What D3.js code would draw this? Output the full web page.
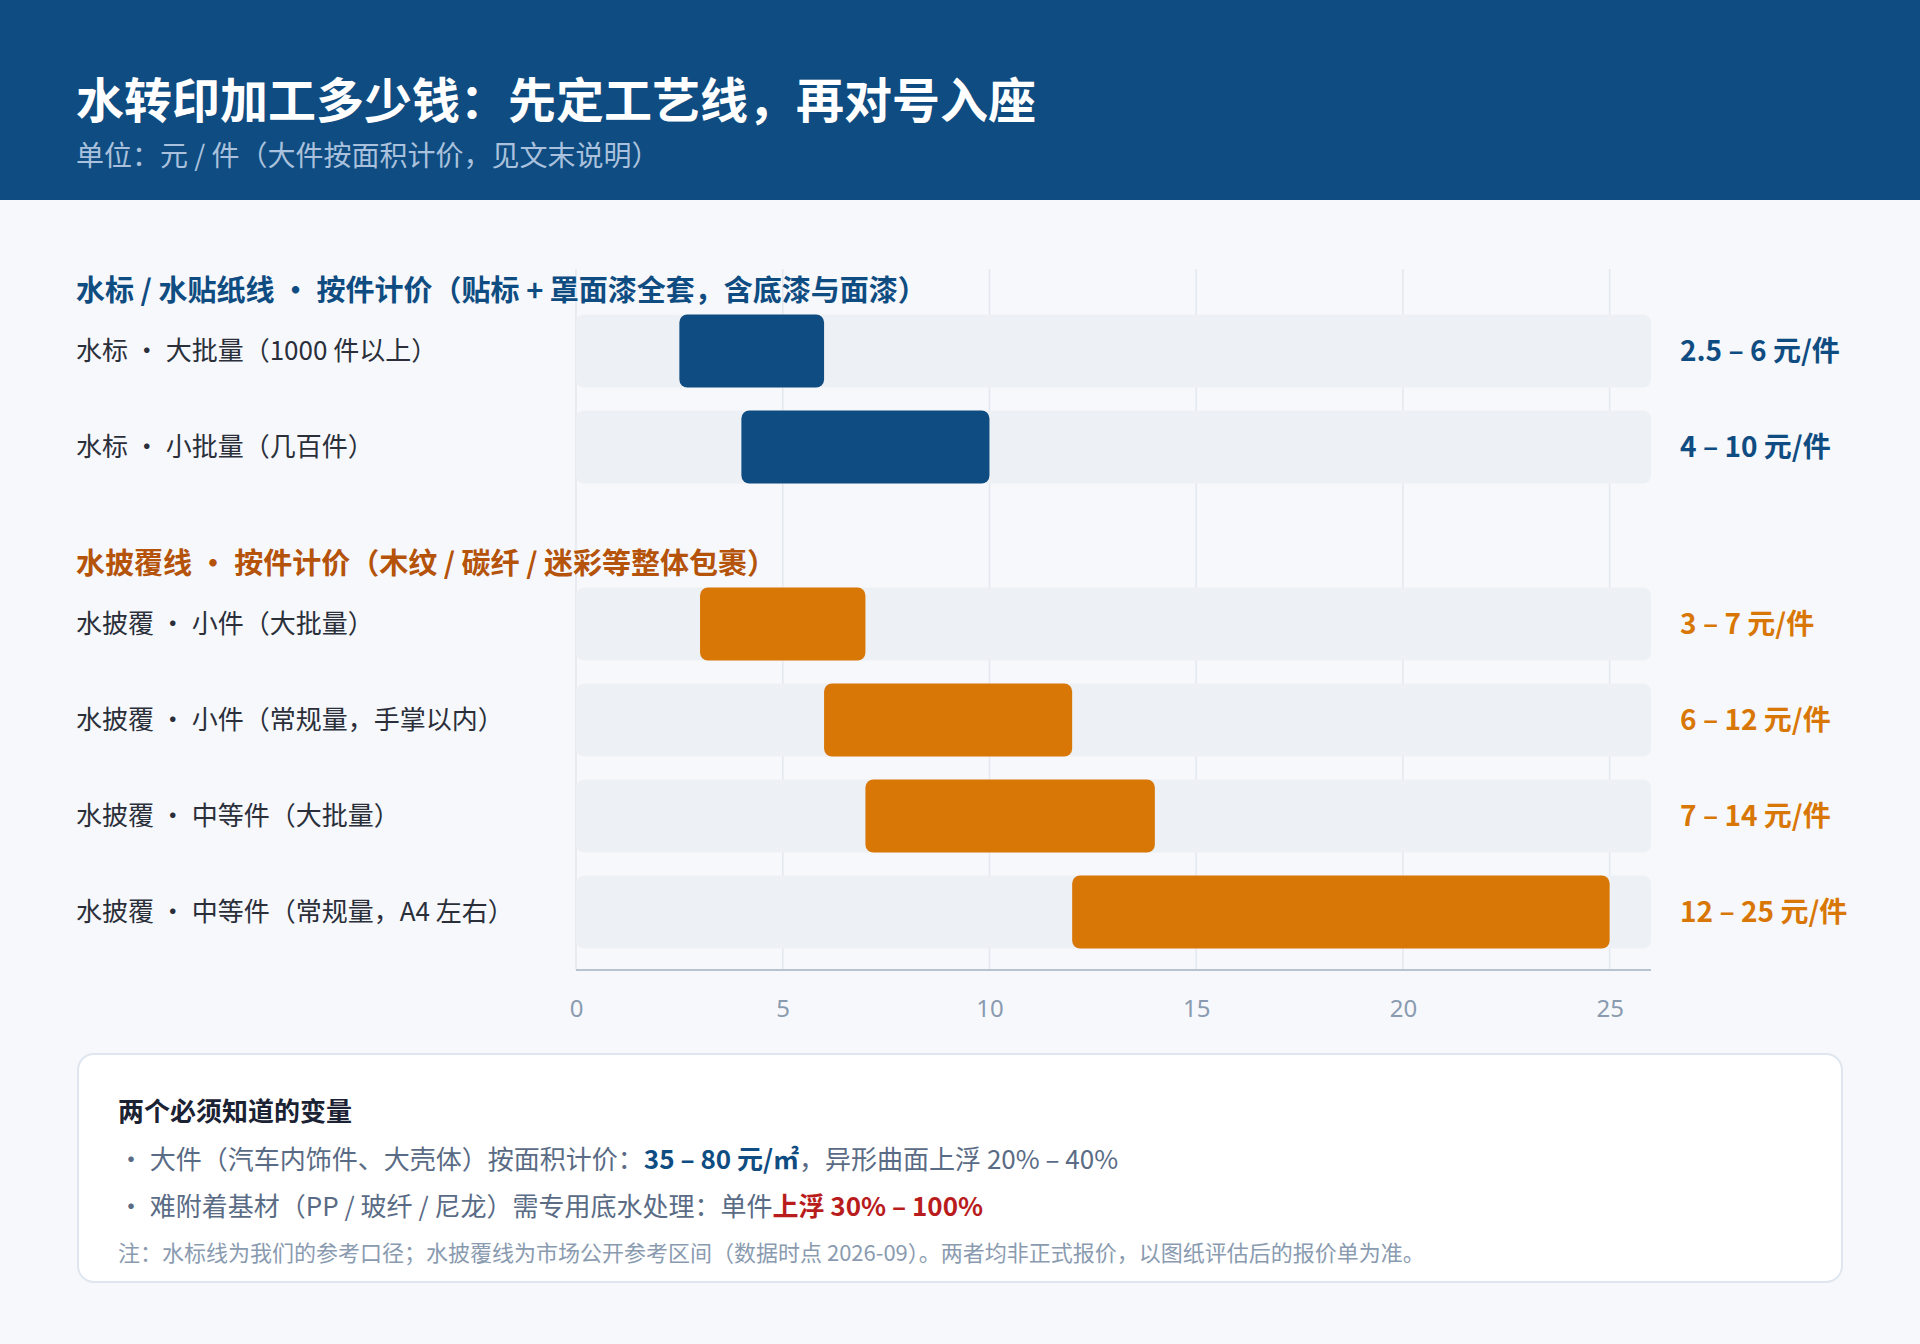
<!DOCTYPE html>
<html><head><meta charset="utf-8">
<script src="https://cdn.jsdelivr.net/npm/d3@7/dist/d3.min.js"></script>
<style>
body{margin:0;background:#f6f8fc;font-family:"Noto Sans CJK SC","Noto Sans",sans-serif}
</style></head>
<body><svg id="c" width="1920" height="1344"></svg>
<script>
const groups = ['水标 / 水贴纸线 • 按件计价（贴标 + 罩面漆全套，含底漆与面漆）', '水披覆线 • 按件计价（木纹 / 碳纤 / 迷彩等整体包裹）']
const groupColors = ['#0f4c81', '#d97706']
const groupTitleColors = ['#0f4c81', '#b45309']
const rowLabels = ['水标 · 大批量（1000 件以上）', '水标 · 小批量（几百件）', '水披覆 · 小件（大批量）', '水披覆 · 小件（常规量，手掌以内）', '水披覆 · 中等件（大批量）', '水披覆 · 中等件（常规量，A4 左右）']
const rowGroup = [0, 0, 1, 1, 1, 1]
const lows = [2.5, 4, 3, 6, 7, 12]
const highs = [6, 10, 7, 12, 14, 25]
const valueLabels = ['2.5 – 6 元/件', '4 – 10 元/件', '3 – 7 元/件', '6 – 12 元/件', '7 – 14 元/件', '12 – 25 元/件']
const ticks = [0, 5, 10, 15, 20, 25]

const svg = d3.select('#c')
const W = 1920

// header
svg.append('rect').attr('width', W).attr('height', 200).attr('fill', '#0f4c81')
svg.append('text').attr('x', 76).attr('y', 118).attr('fill', '#fff')
  .attr('font-size', 48).attr('font-weight', 700).text('水转印加工多少钱：先定工艺线，再对号入座')
svg.append('text').attr('x', 76).attr('y', 166).attr('fill', '#a9c1dc')
  .attr('font-size', 28).text('单位：元 / 件（大件按面积计价，见文末说明）')

const x = d3.scaleLinear().domain([0, 26]).range([576, 1651])
const barH = 73
// row centres: groups stacked with a title above each
const rowY = []
let y = 351
rowGroup.forEach((g, i) => {
  if (i > 0 && g !== rowGroup[i - 1]) y += 177
  else if (i > 0) y += 96
  rowY.push(y)
})
const groupTitleY = groups.map((_, g) => rowY[rowGroup.indexOf(g)] - 60)

// grid
svg.append('g').selectAll('line').data(ticks).join('line')
  .attr('x1', d => x(d)).attr('x2', d => x(d)).attr('y1', 269).attr('y2', 970)
  .attr('stroke', '#e3e8ef').attr('stroke-width', 1.5)

svg.append('g').selectAll('text').data(groups).join('text')
  .attr('x', 76).attr('y', (d, i) => groupTitleY[i] + 10)
  .attr('fill', (d, i) => groupTitleColors[i]).attr('font-size', 29).attr('font-weight', 700).text(d => d)

const rows = svg.append('g').selectAll('g').data(rowLabels).join('g')
rows.append('rect').attr('x', x(0)).attr('width', x(26) - x(0))
  .attr('y', (d, i) => rowY[i] - barH / 2).attr('height', barH).attr('rx', 8).attr('fill', '#edf0f4')
rows.append('rect').attr('x', (d, i) => x(lows[i])).attr('width', (d, i) => x(highs[i]) - x(lows[i]))
  .attr('y', (d, i) => rowY[i] - barH / 2).attr('height', barH).attr('rx', 8)
  .attr('fill', (d, i) => groupColors[rowGroup[i]])
rows.append('text').attr('x', 76).attr('y', (d, i) => rowY[i] + 9)
  .attr('font-size', 26).attr('fill', '#2a2f3a').text(d => d)
rows.append('text').attr('x', 1680).attr('y', (d, i) => rowY[i] + 10)
  .attr('font-size', 28).attr('font-weight', 700)
  .attr('fill', (d, i) => groupColors[rowGroup[i]]).text((d, i) => valueLabels[i])

// axis
const ax = svg.append('g').attr('transform', 'translate(0,970)')
  .call(d3.axisBottom(x).tickValues(ticks).tickSize(0).tickPadding(30))
ax.select('.domain').attr('stroke', '#b8c3d1').attr('stroke-width', 2)
  .attr('d', `M${x(0)},0H${x(26)}`)
ax.selectAll('text').attr('fill', '#8a9bb0').attr('font-size', 24)
  .attr('font-family', '"Noto Sans", sans-serif')

// note box
svg.append('rect').attr('x', 78).attr('y', 1054).attr('width', 1764).attr('height', 228)
  .attr('rx', 16).attr('fill', '#fff').attr('stroke', '#dfe6f0').attr('stroke-width', 2)
svg.append('text').attr('x', 118).attr('y', 1121).attr('font-size', 26).attr('font-weight', 700)
  .attr('fill', '#1a2233').text('两个必须知道的变量')
const l1 = svg.append('text').attr('x', 118).attr('y', 1169).attr('font-size', 26).attr('fill', '#5a6b85')
l1.append('tspan').text('· 大件（汽车内饰件、大壳体）按面积计价：')
l1.append('tspan').attr('fill', '#0f4c81').attr('font-weight', 700).text('35 – 80 元/㎡')
l1.append('tspan').text('，异形曲面上浮 20% – 40%')
const l2 = svg.append('text').attr('x', 118).attr('y', 1216).attr('font-size', 26).attr('fill', '#5a6b85')
l2.append('tspan').text('· 难附着基材（PP / 玻纤 / 尼龙）需专用底水处理：单件')
l2.append('tspan').attr('fill', '#b91c1c').attr('font-weight', 700).text('上浮 30% – 100%')
svg.append('text').attr('x', 118).attr('y', 1261).attr('font-size', 22).attr('fill', '#8a9bb0')
  .text('注：水标线为我们的参考口径；水披覆线为市场公开参考区间（数据时点 2026-09）。两者均非正式报价，以图纸评估后的报价单为准。')
</script></body></html>
